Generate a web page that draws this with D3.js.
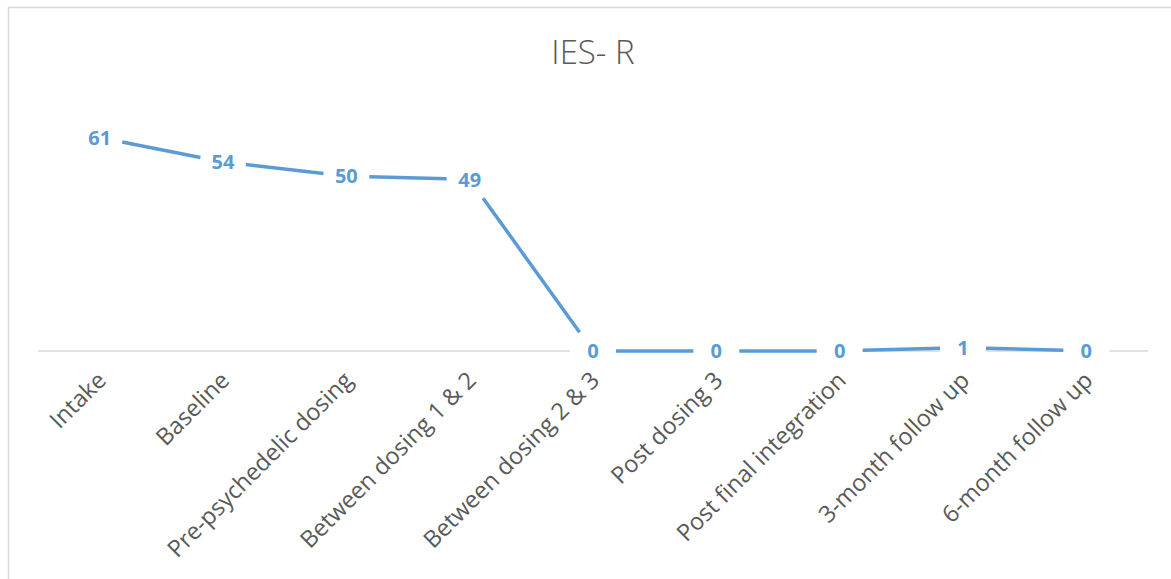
<!DOCTYPE html>
<html><head><meta charset="utf-8">
<script src="https://cdn.jsdelivr.net/npm/d3@7"></script>
<style>
html,body{margin:0;padding:0;background:#fff;}
svg{display:block;}
</style></head>
<body>
<svg id="chart" width="1171" height="579"></svg>
<script>
const title = "IES- R";
const categories = ["Intake","Baseline","Pre-psychedelic dosing","Between dosing 1 & 2","Between dosing 2 & 3","Post dosing 3","Post final integration","3-month follow up","6-month follow up"];
const values = [61,54,50,49,0,0,0,1,0];
const yDomain = [0,70];

const svg = d3.select("#chart");
const W = 1171, H = 579;
const margin = {left:38, right:23, top:106, bottom:228};

// layers
const gBorder = svg.append("g");
const gAxisLine = svg.append("g");
const gCover = svg.append("g");
const gAxis = svg.append("g");
const gLine = svg.append("g");
const gLabels = svg.append("g");

// chart border (left/top visible)
gBorder.append("rect").attr("x",8.5).attr("y",7.5).attr("width",W+20).attr("height",H+20)
  .attr("fill","#fff").attr("stroke","#D9D9D9").attr("stroke-width",1.5);

const x = d3.scaleBand().domain(categories).range([margin.left, W-margin.right]);
const y = d3.scaleLinear().domain(yDomain).range([H-margin.bottom, margin.top]);
const cx = c => x(c) + x.bandwidth()/2;

// title
svg.append("text").attr("x",593).attr("y",64).attr("text-anchor","middle")
  .attr("font-family","'Open Sans'").attr("font-weight",300).attr("font-size",33)
  .attr("fill","#595959").text(title);

// axis baseline
gAxisLine.append("line")
  .attr("x1",margin.left).attr("x2",W-margin.right).attr("y1",y(0)).attr("y2",y(0))
  .attr("stroke","#D9D9D9").attr("stroke-width",1.5);

// x axis labels
gAxis.attr("transform",`translate(0,${y(0)})`)
  .call(d3.axisBottom(x).tickSize(0).tickPadding(0));
gAxis.select(".domain").remove();
gAxis.selectAll(".tick text")
  .attr("font-family","'Open Sans'").attr("font-size",23.5).attr("fill","#595959")
  .attr("text-anchor","end").attr("dy","0.35em")
  .attr("transform","translate(2,25) rotate(-45)");

// line
const pts = categories.map((c,i)=>({c, v:values[i], px:cx(c), py:y(values[i])}));
const gap = 23;
const segs = [];
for(let i=0;i<pts.length-1;i++){
  const a=pts[i], b=pts[i+1];
  const dx=b.px-a.px, dy=b.py-a.py, L=Math.hypot(dx,dy);
  segs.push([[a.px+dx/L*gap, a.py+dy/L*gap],[b.px-dx/L*gap, b.py-dy/L*gap]]);
}
// cover axis around labels
gCover.selectAll("circle").data(pts).join("circle")
  .attr("cx",d=>d.px).attr("cy",d=>d.py).attr("r",gap).attr("fill","#fff");

gLine.selectAll("path").data(segs).join("path")
  .attr("d",d=>d3.line()(d)).attr("stroke","#5B9BD5").attr("stroke-width",3.5)
  .attr("fill","none");

// labels
gLabels.selectAll("text").data(pts).join("text")
  .attr("x",d=>d.px).attr("y",d=>d.py).attr("dy","0.36em").attr("text-anchor","middle")
  .attr("font-family","'Open Sans'").attr("font-weight",700).attr("font-size",20)
  .attr("fill","#5B9BD5").text(d=>d.v);
</script>
</body></html>
